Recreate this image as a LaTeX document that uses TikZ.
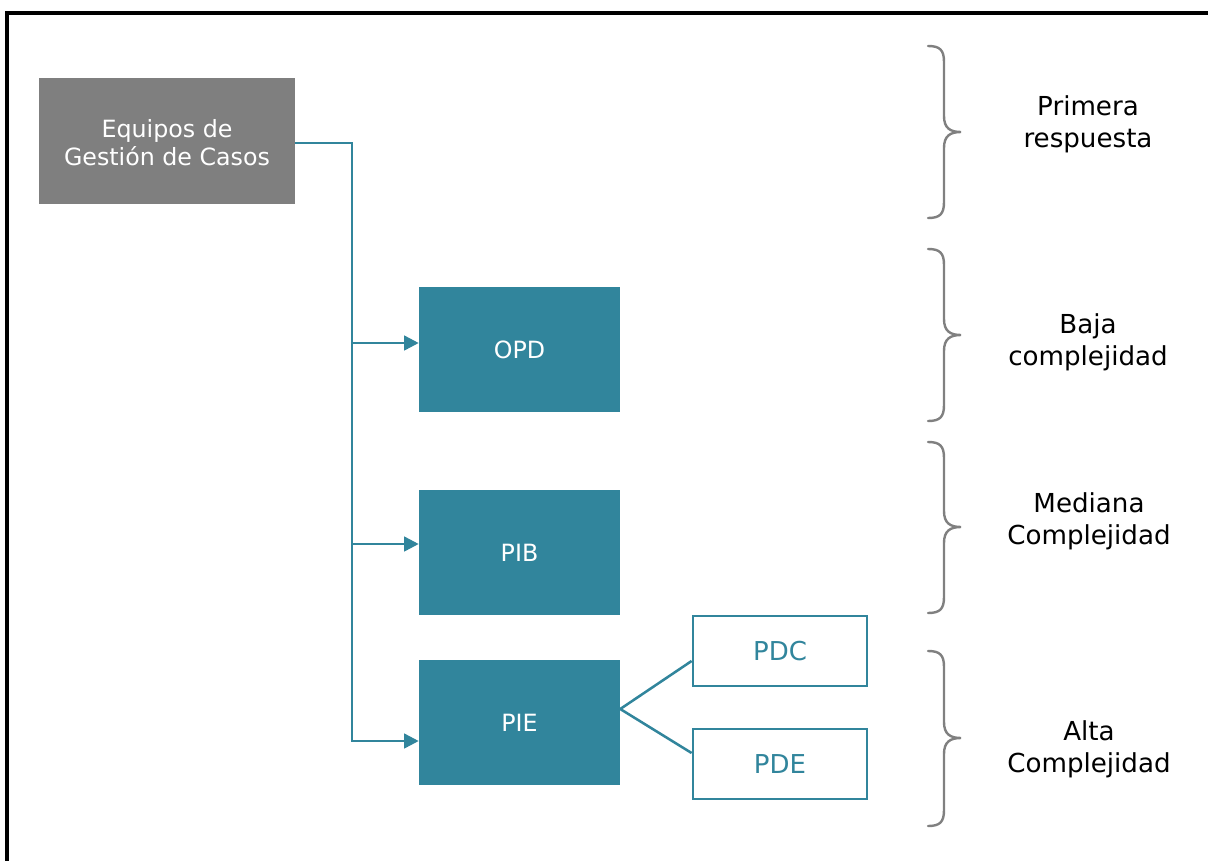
\documentclass[tikz,border=0pt]{standalone}
\usepackage{fontspec}
\setmainfont{DejaVu Sans}
\usetikzlibrary{arrows.meta,calc}
\definecolor{caseteal}{HTML}{31859C}
\definecolor{casegray}{HTML}{7F7F7F}
\definecolor{bracegray}{HTML}{808080}

% curly brace drawn from top end, through the tip, to the bottom end
\newcommand\levelbrace[3]{%
  \draw[bracestyle] (928,#1) .. controls (940,#1) and (944,#1+4) .. (944,#1+16)
    -- (944,#2-16) .. controls (944,#2-4) and (950,#2) .. (961,#2)
    .. controls (950,#2) and (944,#2+4) .. (944,#2+16)
    -- (944,#3-16) .. controls (944,#3-4) and (940,#3) .. (928,#3);}

\begin{document}
\begin{tikzpicture}[x=0.75pt,y=-0.75pt,
  graybox/.style={fill=casegray,minimum width=192pt,minimum height=94.5pt,inner sep=0pt},
  graytext/.style={text=white,inner sep=0pt,align=center,yshift=-1.5pt,
    font=\fontsize{17.8}{21}\selectfont},
  tealbox/.style={fill=caseteal,text=white,minimum width=150.75pt,minimum height=93.75pt,
    inner sep=0pt,font=\fontsize{17.8}{21}\selectfont},
  outbox/.style={draw=caseteal,line width=1.6pt,fill=white,text=caseteal,
    minimum width=131pt,minimum height=53pt,inner sep=0pt,font=\fontsize{19.5}{23}\selectfont},
  link/.style={draw=caseteal,line width=1.9pt},
  arr/.style={link,-{Triangle[length=11pt,width=11pt]}},
  bracestyle/.style={draw=bracegray,line width=1.8pt,line cap=round},
  lvl/.style={align=center,text=black,inner sep=0pt,font=\fontsize{19.6}{24}\selectfont}]
\useasboundingbox (0,0) rectangle (1208,861);

% frame
\draw[line width=2.4pt] (7,861) -- (7,13) -- (1208,13);

% boxes
\node[graybox,label={[graytext]center:{Equipos de\\Gestión de Casos}}] (egc) at (167,141) {};
\node[tealbox] (opd) at (519.5,349.5) {OPD};
\node[tealbox] (pib) at (519.5,552.5) {PIB};
\node[tealbox] (pie) at (519.5,722.5) {PIE};
\node[outbox] (pdc) at (780,651) {PDC};
\node[outbox] (pde) at (780,764) {PDE};

% trunk with branches
\coordinate (bend) at (352,143);
\coordinate (j1) at (352,343);
\coordinate (j2) at (352,544);
\coordinate (j3) at (352,741);
\draw[arr] (egc.east |- bend) -- (bend) -- (j3) -- (j3 -| pie.west);
\draw[arr] (j1) -- (j1 -| opd.west);
\draw[arr] (j2) -- (j2 -| pib.west);

% split from PIE
\coordinate (fork) at ($(pie.east)+(0,-13.5)$);
\draw[link] ($(pdc.west)+(0,10)$) -- (fork) -- ($(pde.west)+(0,-11)$);

% level braces
\levelbrace{46}{132}{218}
\levelbrace{249}{335}{421}
\levelbrace{442}{527}{613}
\levelbrace{651}{738}{826}

% level labels
\node[lvl] (l1) at (1088,124) {Primera\\respuesta};
\node[lvl] (l2) at (1088,342) {Baja\\complejidad};
\node[lvl] (l3) at (1089,521) {Mediana\\Complejidad};
\node[lvl] (l4) at (1089,749) {Alta\\Complejidad};
\end{tikzpicture}
\end{document}
